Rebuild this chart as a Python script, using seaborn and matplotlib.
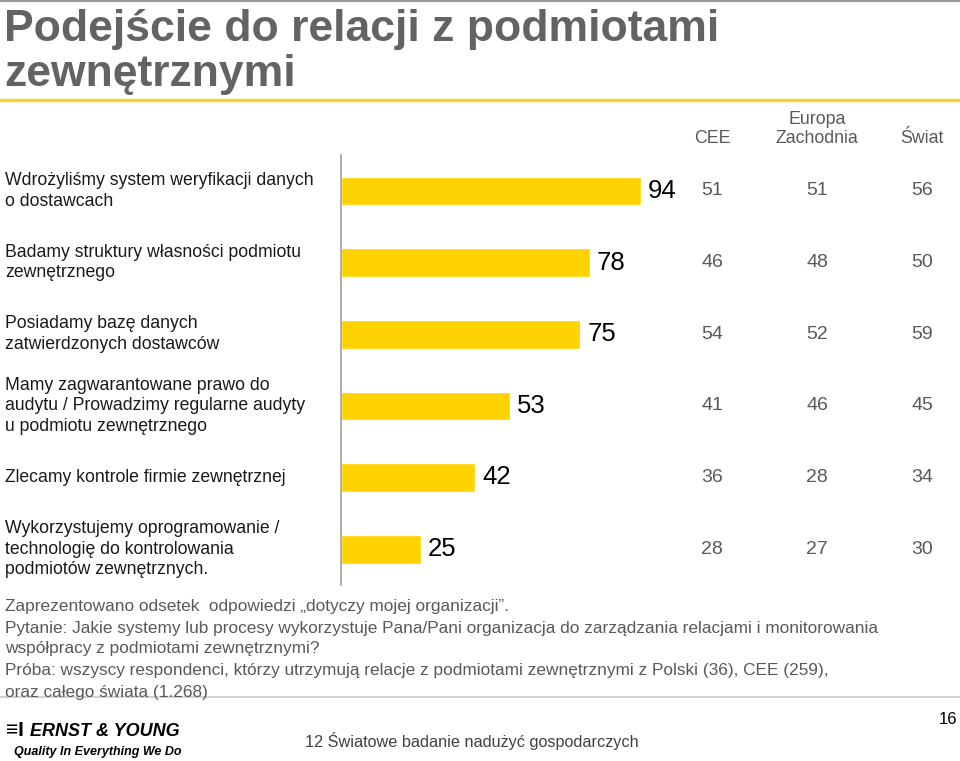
import pandas as pd
import matplotlib
matplotlib.use("Agg")
import matplotlib.pyplot as plt
import matplotlib.transforms as mtransforms
from matplotlib.lines import Line2D
import seaborn as sns

# data
labels = [
    "Wdrożyliśmy system weryfikacji danych\no dostawcach",
    "Badamy struktury własności podmiotu\nzewnętrznego",
    "Posiadamy bazę danych\nzatwierdzonych dostawców",
    "Mamy zagwarantowane prawo do\naudytu / Prowadzimy regularne audyty\nu podmiotu zewnętrznego",
    "Zlecamy kontrole firmie zewnętrznej",
    "Wykorzystujemy oprogramowanie /\ntechnologię do kontrolowania\npodmiotów zewnętrznych.",
]
polska = [94, 78, 75, 53, 42, 25]
cee = [51, 46, 54, 41, 36, 28]
europa_zach = [51, 48, 52, 46, 28, 27]
swiat = [56, 50, 59, 45, 34, 30]
col_headers = ["CEE", "Europa\nZachodnia", "Świat"]

df = pd.DataFrame({"label": labels, "Polska": polska})

sns.set_theme(style="white")
plt.rcParams["font.family"] = ["Liberation Sans", "DejaVu Sans"]

W, H = 960, 761
fig = plt.figure(figsize=(W / 100, H / 100), dpi=100)

def fx(px):
    return px / W

def fy(py):
    return 1 - py / H

# chart area: left spine at x=341, rows from y=155 to 585
ax = fig.add_axes([fx(341), fy(585), fx(319), (585 - 155) / H])
sns.barplot(data=df, x="Polska", y="label", orient="h", color="#FFD200",
            width=0.4, saturation=1, ax=ax)
ax.set_xlim(0, 100)
ax.set_ylim(len(labels) - 0.5, -0.5)
ax.set_xlabel("")
ax.set_ylabel("")
ax.set_xticks([])
ax.set_yticks([])
for s in ["top", "right", "bottom"]:
    ax.spines[s].set_visible(False)
ax.spines["left"].set_color("#a0a0a0")
ax.spines["left"].set_linewidth(1.2)
ax.patch.set_alpha(0)

# value labels next to bars
for i, v in enumerate(polska):
    ax.annotate(str(v), (v, i), xytext=(5, 0), textcoords="offset points",
                va="center", ha="left", fontsize=18.5, color="black")

# row labels on the left, other regions on the right
tr = mtransforms.blended_transform_factory(fig.transFigure, ax.transData)
for i, lab in enumerate(labels):
    fig.text(fx(5), i, lab, transform=tr, ha="left", va="center",
             fontsize=12.7, color="#1a1a1a", linespacing=1.28)

col_x = [712, 817, 922]
for cx, vals in zip(col_x, [cee, europa_zach, swiat]):
    for i, v in enumerate(vals):
        fig.text(fx(cx), i, str(v), transform=tr, ha="center", va="center",
                 fontsize=14, color="#595959")

for cx, head in zip(col_x, col_headers):
    fig.text(fx(cx), fy(147), head, ha="center", va="bottom",
             fontsize=12.8, color="#595959", linespacing=1.15)

# title and decoration lines
fig.text(fx(4), fy(52), "Podejście do relacji z podmiotami\nzewnętrznymi",
         ha="left", va="center", fontsize=32, fontweight="bold",
         color="#636363", linespacing=1.12)
fig.add_artist(Line2D([0, 1], [fy(1), fy(1)], color="#9a9a9a", lw=1.5))
fig.add_artist(Line2D([0, 1], [fy(100), fy(100)], color="#F5D33A", lw=2.5))
fig.add_artist(Line2D([0, 1], [fy(697), fy(697)], color="#c8c8c8", lw=1.2))

# footnotes
notes = [
    "Zaprezentowano odsetek  odpowiedzi \u201edotyczy mojej organizacji\u201d.",
    "Pytanie: Jakie systemy lub procesy wykorzystuje Pana/Pani organizacja do zarządzania relacjami i monitorowania",
    "współpracy z podmiotami zewnętrznymi?",
    "Próba: wszyscy respondenci, którzy utrzymują relacje z podmiotami zewnętrznymi z Polski (36), CEE (259),",
    "oraz całego świata (1.268)",
]
note_y = [607, 628, 649, 671, 692]
for ny, t in zip(note_y, notes):
    fig.text(fx(5), fy(ny), t, ha="left", va="center", fontsize=12.4,
             color="#595959")

# footer
fig.text(fx(6), fy(731), "\u2261I", ha="left", va="center", fontsize=15,
         fontweight="bold", color="black")
fig.text(fx(30), fy(731), "ERNST & YOUNG", ha="left", va="center",
         fontsize=13, fontweight="bold", style="italic", color="black")
fig.text(fx(98), fy(752), "Quality In Everything We Do", ha="center",
         va="center", fontsize=9, fontweight="bold", style="italic",
         color="black")
fig.text(fx(305), fy(741), "12 Światowe badanie nadużyć gospodarczych",
         ha="left", va="center", fontsize=11.7, color="#404040")
fig.text(fx(957), fy(720), "16", ha="right", va="center", fontsize=12,
         color="black")

fig.savefig("out.png", dpi=100)
